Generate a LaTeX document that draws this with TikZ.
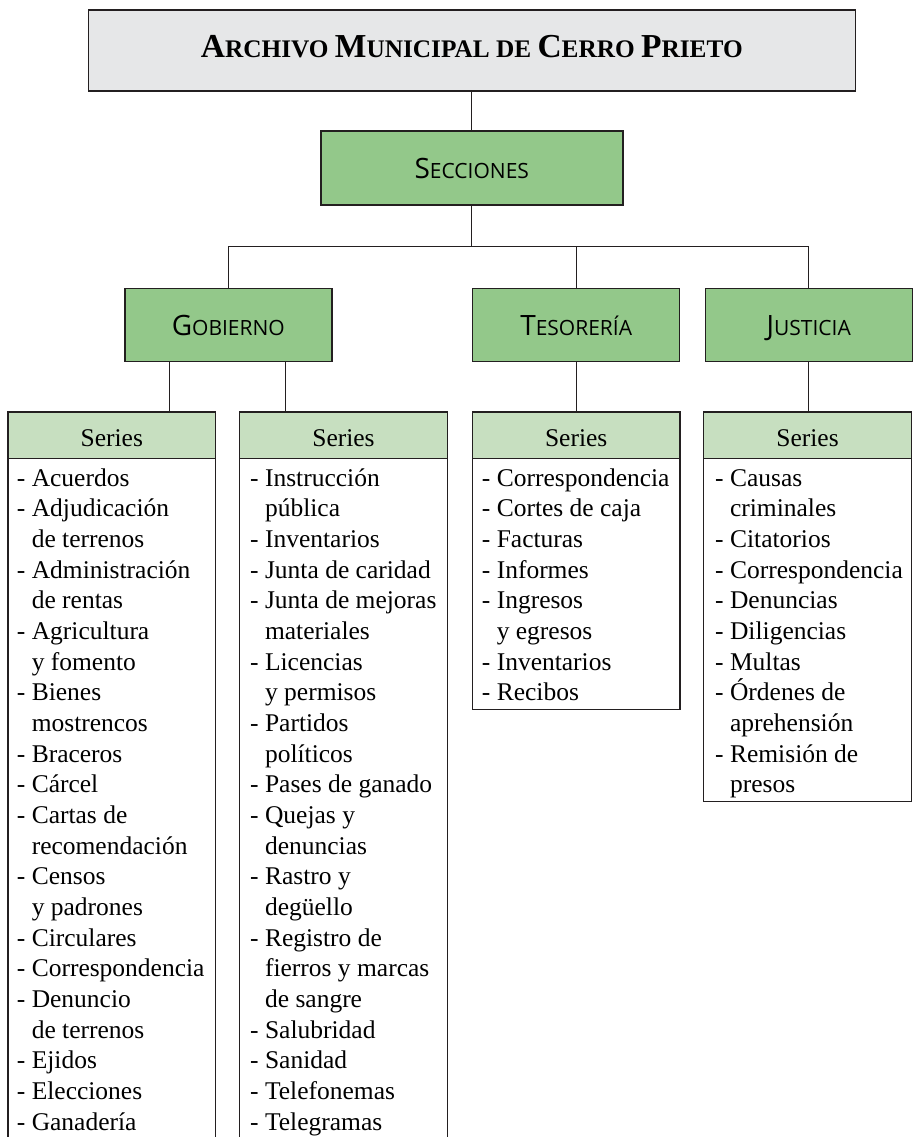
\documentclass[tikz,border=0pt]{standalone}
\usepackage{fontspec}
\setmainfont{Liberation Serif}
\newfontfamily\secfont{Open Sans}
\usepackage{xcolor}
\definecolor{titlegray}{HTML}{E6E7E8}
\definecolor{secgreen}{HTML}{93C88A}
\definecolor{sergreen}{HTML}{C7DFC0}
\definecolor{linedark}{HTML}{231F20}
\newcommand{\titlesc}[2]{{\fontsize{33.5}{36}\selectfont#1}{\fontsize{25.3}{28}\selectfont#2}}
\newcommand{\secsc}[2]{{\fontsize{28}{30}\selectfont#1}{\fontsize{21}{24}\selectfont#2}}
\newcommand{\cont}{\hphantom{- }}

\begin{document}
\begin{tikzpicture}[x=1pt,y=-1pt,
  titlebox/.style={draw=linedark,line width=1.4pt,fill=titlegray,minimum width=767pt,minimum height=81pt,
    inner sep=0pt,outer sep=0pt,text height=15pt,text depth=0pt,font=\bfseries\fontsize{25.3}{28}\selectfont},
  secbox/.style={draw=linedark,line width=1.4pt,fill=secgreen,minimum width=207pt,minimum height=73pt,
    inner sep=0pt,outer sep=0pt,text height=21pt,text depth=0pt,font=\secfont\fontsize{21}{24}\selectfont},
  serhead/.style={draw=linedark,line width=1.4pt,fill=sergreen,minimum width=207.5pt,minimum height=46.7pt,
    inner sep=0pt,outer sep=0pt,text height=22pt,text depth=0pt,font=\fontsize{25.5}{30}\selectfont},
  serbody/.style={draw=linedark,line width=1.4pt},
  link/.style={draw=linedark,line width=1pt},
  item/.style={anchor=base west,inner sep=0pt,font=\fontsize{25.5}{30}\selectfont}]
\useasboundingbox (0,0) rectangle (914,1137);

\node[titlebox] (archivo) at (471.8,50.5) {\titlesc{A}{RCHIVO} \titlesc{M}{UNICIPAL} \titlesc{}{DE} \titlesc{C}{ERRO} \titlesc{P}{RIETO}};
\node[secbox,minimum width=302pt,minimum height=74pt] (secciones) at (471.8,168) {\secsc{S}{ECCIONES}};
\node[secbox] (gobierno) at (228.3,324.7) {\secsc{G}{OBIERNO}};
\node[secbox] (tesoreria) at (576.2,324.7) {\secsc{T}{ESORERÍA}};
\node[secbox] (justicia) at (808.7,324.7) {\secsc{J}{USTICIA}};

\draw[serbody] (111.8,458.7) ++(-103.75,0) -- ++(0,680) ++(207.5,0) -- ++(0,-680);
\draw[serbody] (343.5,458.7) ++(-103.75,0) -- ++(0,680) ++(207.5,0) -- ++(0,-680);
\node[serhead] (series1) at (111.8,435.3) {Series};
\node[serhead] (series2) at (343.5,435.3) {Series};
\node[serhead] (series3) at (576.2,435.3) {Series};
\node[serhead] (series4) at (807.5,435.3) {Series};
\draw[serbody] (series3.south west) rectangle ([yshift=-251pt]series3.south east);
\draw[serbody] (series4.south west) rectangle ([yshift=-343pt]series4.south east);

\draw[link] (archivo) -- (secciones);
\coordinate (bar) at ([yshift=-41.5pt]secciones.south);
\draw[link] (secciones) -- (bar) -| (gobierno);
\draw[link] (bar) -| (tesoreria);
\draw[link] (bar) -| (justicia);
\draw[link] ([xshift=-58.5pt]gobierno.south) -- ([xshift=-58.5pt]gobierno.south |- series1.north);
\draw[link] ([xshift=57.5pt]gobierno.south) -- ([xshift=57.5pt]gobierno.south |- series2.north);
\draw[link] (tesoreria) -- (series3);
\draw[link] (justicia.south) -- (justicia.south |- series4.north);

\foreach \txt [count=\i] in {- Acuerdos, - Adjudicación, \cont de terrenos, - Administración, \cont de rentas,
  - Agricultura, \cont y fomento, - Bienes, \cont mostrencos, - Braceros, - Cárcel, - Cartas de,
  \cont recomendación, - Censos, \cont y padrones, - Circulares, - Correspondencia, - Denuncio,
  \cont de terrenos, - Ejidos, - Elecciones, - Ganadería}
  \node[item] (gob-a-\i) at (16.7,{486+30.67*(\i-1)}) {\txt};
\foreach \txt [count=\i] in {- Instrucción, \cont pública, - Inventarios, - Junta de caridad, - Junta de mejoras,
  \cont materiales, - Licencias, \cont y permisos, - Partidos, \cont políticos, - Pases de ganado, - Quejas y,
  \cont denuncias, - Rastro y, \cont degüello, - Registro de, \cont fierros y marcas, \cont de sangre,
  - Salubridad, - Sanidad, - Telefonemas, - Telegramas}
  \node[item] (gob-b-\i) at (250,{486+30.67*(\i-1)}) {\txt};
\foreach \txt [count=\i] in {- Correspondencia, - Cortes de caja, - Facturas, - Informes, - Ingresos,
  \cont y egresos, - Inventarios, - Recibos}
  \node[item] (tes-\i) at (481.7,{486+30.67*(\i-1)}) {\txt};
\foreach \txt [count=\i] in {- Causas, \cont criminales, - Citatorios, - Correspondencia, - Denuncias,
  - Diligencias, - Multas, - Órdenes de, \cont aprehensión, - Remisión de, \cont presos}
  \node[item] (jus-\i) at (715,{486+30.67*(\i-1)}) {\txt};
\end{tikzpicture}
\end{document}
